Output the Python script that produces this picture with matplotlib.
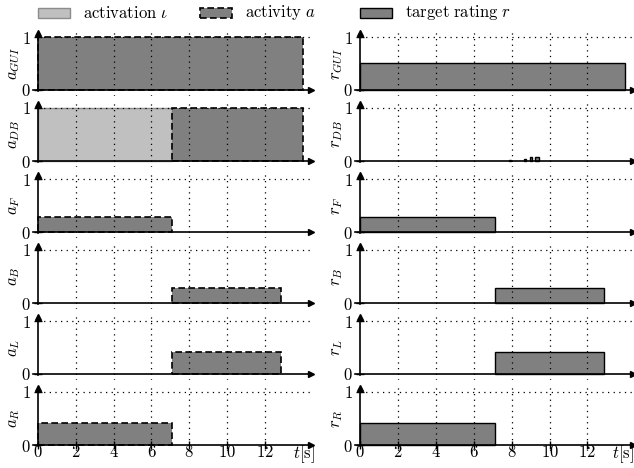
import matplotlib
matplotlib.use('Agg')
import matplotlib.pyplot as plt
from matplotlib.patches import Rectangle

plt.rcParams['mathtext.fontset'] = 'cm'
plt.rcParams['font.family'] = 'serif'
plt.rcParams['font.serif'] = ['DejaVu Serif']

rows = ['GUI', 'DB', 'F', 'B', 'L', 'R']

# activity a (dark, dashed edge)
act_start = [0, 7.1, 0, 7.1, 7.1, 0]
act_end = [14.0, 14.0, 7.1, 12.85, 12.85, 7.1]
act_val = [1.0, 1.0, 0.29, 0.29, 0.42, 0.42]

# activation iota (light) -- only DB shows it
actv_row = 1
actv_start = 0
actv_end = 7.1
actv_val = 1.0

# target rating r
rate_start = [[0], [7.85, 8.65, 8.95, 9.25], [0], [7.1], [7.1], [0]]
rate_end = [[14.0], [7.95, 8.75, 9.1, 9.45], [7.1], [12.85], [12.85], [7.1]]
rate_val = [[0.5], [0.02, 0.03, 0.07, 0.08], [0.29], [0.29], [0.42], [0.42]]

xticks = [0, 2, 4, 6, 8, 10, 12]
grid_x = [2, 4, 6, 8, 10, 12]
t_label_pos = [14.05, 13.85]

legend_labels = [r'$\mathrm{activation}\ \iota$', r'$\mathrm{activity}\ a$',
                 r'$\mathrm{target\ rating}\ r$']

dark = '#808080'
light = '#c0c0c0'
light_edge = '#8c8c8c'

W, H = 634, 468
fig = plt.figure(figsize=(W / 100, H / 100), dpi=100)

xmin, xmax = -0.3, 14.45
ymin, ymax = -0.12, 1.12
px_x = 18.95
px_y = 53.0
dots = (0, (1, 3.5))


def setup(ax, label, bottom, tpos):
    ax.set_xlim(xmin, xmax)
    ax.set_ylim(ymin, ymax)
    for s in ['top', 'right']:
        ax.spines[s].set_visible(False)
    ax.spines['left'].set_position(('data', 0))
    ax.spines['bottom'].set_position(('data', 0))
    ax.spines['left'].set_bounds(-0.02, 1.08)
    ax.spines['bottom'].set_bounds(-0.25, xmax - 0.05)
    for s in ['left', 'bottom']:
        ax.spines[s].set_linewidth(1.2)
    ax.plot([0], [1.08], marker='^', color='k', ms=4, clip_on=False, zorder=5)
    ax.plot([xmax - 0.05], [0], marker='>', color='k', ms=4, clip_on=False, zorder=5)
    for gx in grid_x:
        ax.axvline(gx, color='k', ls=dots, lw=0.9, zorder=2)
    ax.plot([0, xmax], [1, 1], color='k', ls=dots, lw=0.9, zorder=2)
    ax.set_yticks([0, 1])
    ax.set_yticklabels(['$0$', '$1$'], fontsize=12)
    ax.tick_params(axis='y', direction='inout', length=6, width=1, pad=2)
    if bottom:
        ax.set_xticks(xticks + [tpos])
        ax.set_xticklabels(['$%d$' % v for v in xticks] + [r'$t[\mathrm{s}]$'], fontsize=12)
        ax.tick_params(axis='x', direction='inout', length=6, width=1, pad=-4)
        ax.xaxis.get_major_ticks()[-1].tick1line.set_visible(False)
        ax.xaxis.get_major_ticks()[-1].tick2line.set_visible(False)
    else:
        ax.set_xticks([])
    ax.set_ylabel(label, fontsize=12, labelpad=0)
    ax.yaxis.set_label_coords(-0.035, 0.5)


for i, name in enumerate(rows):
    y0 = 90 + 71 * i
    bottom = 1 - (y0 + (-ymin) * px_y) / H
    height = (ymax - ymin) * px_y / H
    for col, left0 in enumerate([37.7, 360.0]):
        left = (left0 + xmin * px_x) / W
        width = (xmax - xmin) * px_x / W
        ax = fig.add_axes([left, bottom, width, height])
        last = i == len(rows) - 1
        if col == 0:
            if i == actv_row:
                ax.bar(actv_start, actv_val, actv_end - actv_start, align='edge',
                       color=light, edgecolor=light_edge, lw=1.0, zorder=1)
            ax.bar(act_start[i], act_val[i], act_end[i] - act_start[i], align='edge',
                   color=dark, edgecolor='k', lw=1.2, ls=(0, (4, 2)), zorder=1)
            setup(ax, r'$a_{%s}$' % name, last, t_label_pos[0])
        else:
            for s, e, v in zip(rate_start[i], rate_end[i], rate_val[i]):
                ax.bar(s, v, e - s, align='edge', color=dark, edgecolor='k',
                       lw=1.0, zorder=1)
            setup(ax, r'$r_{%s}$' % name, last, t_label_pos[1])

# legend row drawn by hand
styles = [dict(facecolor=light, edgecolor=light_edge, lw=1.0),
          dict(facecolor=dark, edgecolor='k', lw=1.2, ls=(0, (4, 2))),
          dict(facecolor=dark, edgecolor='k', lw=1.0)]
leg_x = [38, 200, 360]
for lab, st, lx in zip(legend_labels, styles, leg_x):
    fig.add_artist(Rectangle((lx / W, 1 - 18 / H), 32 / W, 10 / H,
                             transform=fig.transFigure, **st))
    fig.text((lx + 45) / W, 1 - 13 / H, lab, fontsize=12, va='center', ha='left')

fig.savefig('out.png', dpi=100)
